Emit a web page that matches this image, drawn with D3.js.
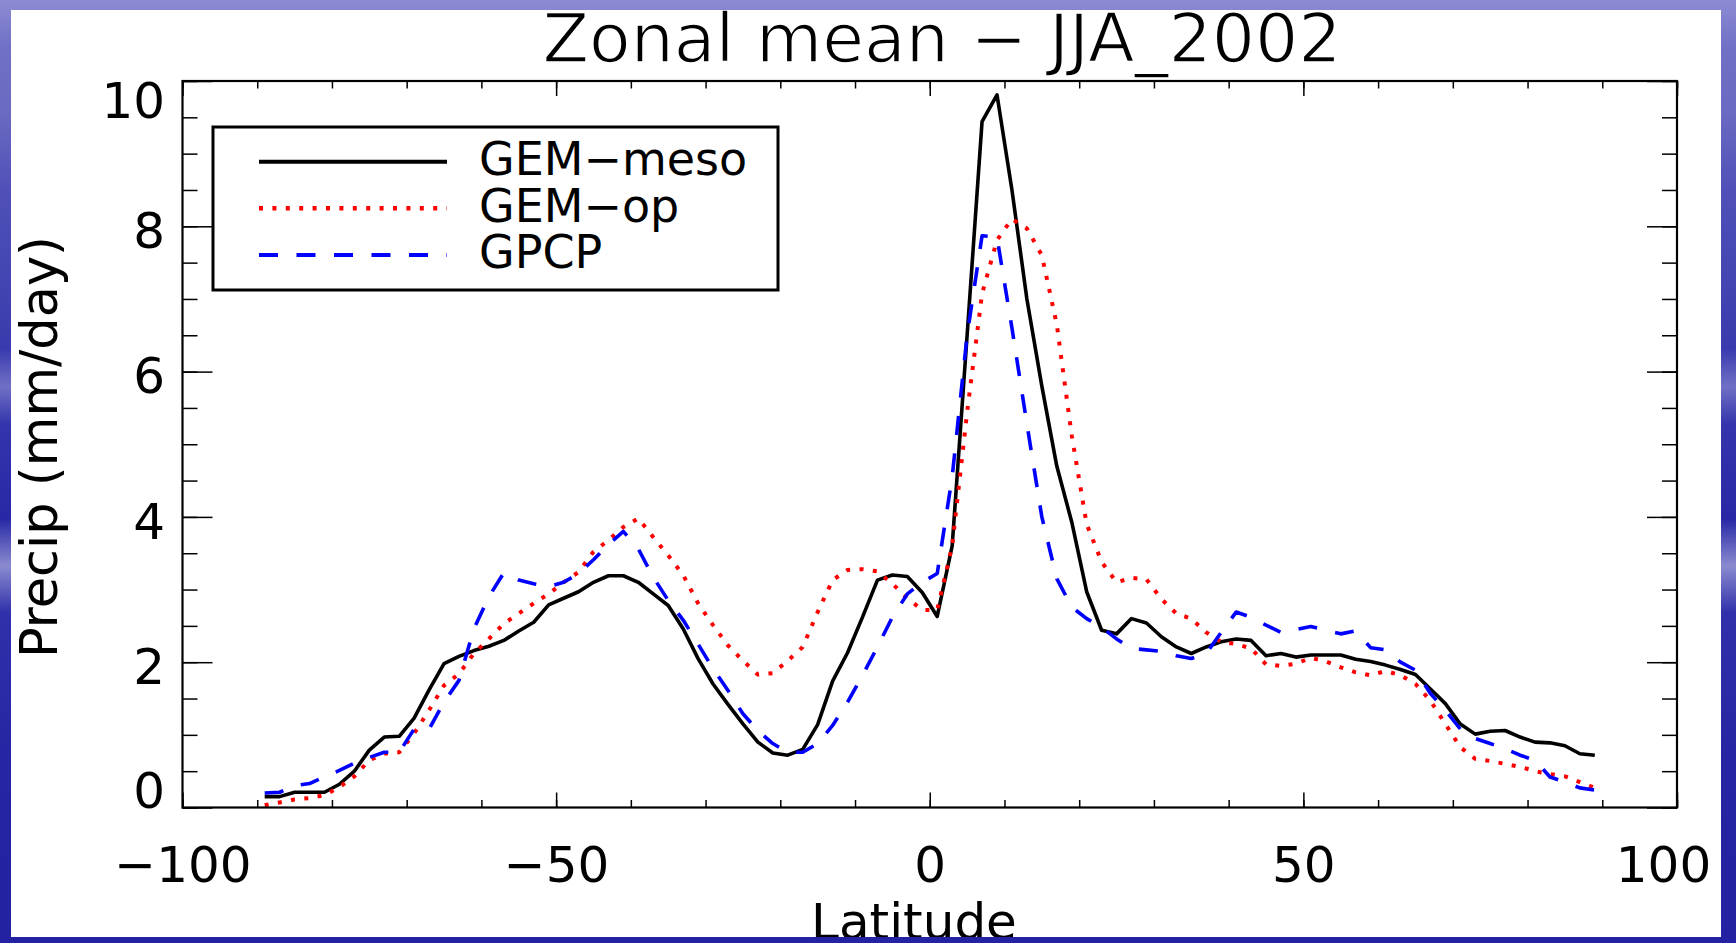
<!DOCTYPE html>
<html>
<head>
<meta charset="utf-8">
<script src="https://cdnjs.cloudflare.com/ajax/libs/d3/7.8.5/d3.min.js"></script>
<style>
  html, body { margin: 0; padding: 0; background: #2a2aa8; overflow: hidden; }
  svg { display: block; font-family: "DejaVu Sans", sans-serif; }
</style>
</head>
<body>
<svg id="chart" width="1736" height="943"></svg>
<script>
/*global d3:true */

// zonal means, 2 degree bands (band centres)
var latitude = [
  -89, -87, -85, -83, -81, -79, -77, -75, -73, -71,
  -69, -67, -65, -63, -61, -59, -57, -55, -53, -51,
  -49, -47, -45, -43, -41, -39, -37, -35, -33, -31,
  -29, -27, -25, -23, -21, -19, -17, -15, -13, -11,
  -9, -7, -5, -3, -1,
  1, 3, 5, 7, 9, 11, 13, 15, 17, 19,
  21, 23, 25, 27, 29, 31, 33, 35, 37, 39,
  41, 43, 45, 47, 49, 51, 53, 55, 57, 59,
  61, 63, 65, 67, 69, 71, 73, 75, 77, 79,
  81, 83, 85, 87, 89
];

var gemMeso = [
  0.15, 0.15, 0.21, 0.21, 0.21, 0.32, 0.50, 0.79, 0.97, 0.98,
  1.23, 1.62, 1.98, 2.08, 2.16, 2.22, 2.30, 2.43, 2.55, 2.79,
  2.88, 2.97, 3.10, 3.19, 3.19, 3.10, 2.94, 2.78, 2.46, 2.05,
  1.70, 1.42, 1.15, 0.90, 0.75, 0.72, 0.80, 1.14, 1.74, 2.13,
  2.62, 3.13, 3.20, 3.18, 2.96,
  2.63, 3.60, 6.50, 9.44, 9.81, 8.50, 7.00, 5.80, 4.70, 3.93,
  2.97, 2.44, 2.39, 2.60, 2.54, 2.35, 2.21, 2.12, 2.21, 2.28,
  2.32, 2.30, 2.09, 2.12, 2.07, 2.10, 2.10, 2.10, 2.04, 2.01,
  1.96, 1.90, 1.83, 1.63, 1.43, 1.15, 1.01, 1.05, 1.06, 0.97,
  0.90, 0.89, 0.85, 0.74, 0.72
];

var gemOp = [
  0.03, 0.07, 0.11, 0.13, 0.17, 0.28, 0.43, 0.65, 0.74, 0.76,
  1.02, 1.34, 1.68, 1.84, 2.12, 2.32, 2.53, 2.67, 2.81, 2.94,
  3.10, 3.24, 3.52, 3.68, 3.86, 3.98, 3.72, 3.47, 3.20, 2.81,
  2.51, 2.23, 2.02, 1.83, 1.85, 2.02, 2.21, 2.69, 3.13, 3.27,
  3.28, 3.25, 3.08, 2.88, 2.72,
  2.72, 3.60, 5.44, 7.07, 7.81, 8.10, 7.97, 7.60, 6.65, 5.12,
  3.90, 3.38, 3.10, 3.16, 3.14, 2.87, 2.67, 2.60, 2.41, 2.28,
  2.25, 2.19, 1.97, 1.95, 1.98, 2.06, 2.01, 1.93, 1.86, 1.82,
  1.88, 1.82, 1.70, 1.47, 1.15, 0.83, 0.67, 0.64, 0.60, 0.56,
  0.50, 0.46, 0.43, 0.35, 0.27
];

var gpcp = [
  0.20, 0.21, 0.30, 0.33, 0.42, 0.51, 0.61, 0.69, 0.76, 0.76,
  1.08, 1.08, 1.45, 1.75, 2.46, 2.90, 3.23, 3.13, 3.08, 3.04,
  3.10, 3.22, 3.41, 3.62, 3.80, 3.56, 3.17, 2.85, 2.58, 2.25,
  1.91, 1.61, 1.29, 1.06, 0.88, 0.76, 0.76, 0.88, 1.13, 1.45,
  1.82, 2.21, 2.62, 2.94, 3.10,
  3.22, 4.55, 6.50, 7.87, 7.85, 6.60, 5.28, 4.00, 3.15, 2.76,
  2.60, 2.48, 2.32, 2.19, 2.17, 2.15, 2.09, 2.05, 2.12, 2.41,
  2.69, 2.62, 2.51, 2.41, 2.45, 2.49, 2.44, 2.39, 2.43, 2.20,
  2.17, 2.00, 1.89, 1.57, 1.34, 1.08, 0.95, 0.88, 0.81, 0.72,
  0.65, 0.42, 0.35, 0.27, 0.24
];

var seriesNames = ["GEM\u2212meso", "GEM\u2212op", "GPCP"];
var xTickLabels = [-100, -50, 0, 50, 100];
var yTickLabels = [0, 2, 4, 6, 8, 10];

var width = 1736, height = 943;
var margin = {top: 81, right: 59, bottom: 135.5, left: 182.5},
    plotW = width - margin.left - margin.right,
    plotH = height - margin.top - margin.bottom;

var svg = d3.select("#chart");

// blue slide background, streaky
var defs = svg.append("defs");
var grad = defs.append("linearGradient")
    .attr("id", "slideBlue")
    .attr("gradientUnits", "userSpaceOnUse")
    .attr("x1", 0).attr("y1", 0).attr("x2", 0).attr("y2", height);
[[0, "#8c8cd4"], [0.05, "#7070c6"], [0.12, "#6a6ac2"], [0.2, "#5050b8"],
 [0.3, "#4444b2"], [0.37, "#3a3aae"], [0.41, "#7070c6"], [0.45, "#3434ac"],
 [0.55, "#2828a6"], [0.6, "#8a8ad0"], [0.65, "#3030aa"], [0.8, "#2626a4"],
 [1, "#2222a2"]].forEach(function(s) {
  grad.append("stop").attr("offset", s[0]).attr("stop-color", s[1]);
});

svg.append("rect")
    .attr("width", width)
    .attr("height", height)
    .attr("fill", "#ffffff");

var x = d3.scaleLinear()
    .domain([-100, 100])
    .range([0, plotW]);

var y = d3.scaleLinear()
    .domain([0, 10])
    .range([plotH, 0]);

var g = svg.append("g")
    .attr("transform", "translate(" + margin.left + "," + margin.top + ")");

function styleAxis(sel) {
  sel.select(".domain").remove();
  sel.selectAll(".tick line").attr("stroke", "#000").attr("stroke-width", 1.5);
  sel.attr("font-family", "DejaVu Sans, sans-serif").attr("font-size", 50);
  sel.selectAll(".tick text").attr("fill", "#000");
}

// minor ticks, all four sides (inward)
g.append("g").attr("transform", "translate(0," + plotH + ")")
    .call(d3.axisBottom(x).tickValues(x.ticks(20)).tickSize(-7.5).tickFormat(""))
    .call(styleAxis);
g.append("g")
    .call(d3.axisTop(x).tickValues(x.ticks(20)).tickSize(-7.5).tickFormat(""))
    .call(styleAxis);
g.append("g")
    .call(d3.axisLeft(y).tickValues(y.ticks(20)).tickSize(-15).tickFormat(""))
    .call(styleAxis);
g.append("g").attr("transform", "translate(" + plotW + ",0)")
    .call(d3.axisRight(y).tickValues(y.ticks(20)).tickSize(-15).tickFormat(""))
    .call(styleAxis);

// major ticks with labels
var xAxis = g.append("g").attr("transform", "translate(0," + plotH + ")")
    .call(d3.axisBottom(x).tickValues(xTickLabels).tickSize(-15).tickPadding(37.5))
    .call(styleAxis);
xAxis.selectAll(".tick text")
    .attr("dy", null)
    .attr("y", 74)
    .attr("dx", function(d) { return d === 100 ? -14 : 0; }); // IDL pushes the last label in

g.append("g")
    .call(d3.axisTop(x).tickValues(xTickLabels).tickSize(-15).tickFormat(""))
    .call(styleAxis);

var yAxis = g.append("g")
    .call(d3.axisLeft(y).tickValues(yTickLabels).tickSize(-30).tickPadding(17.5))
    .call(styleAxis);
yAxis.selectAll(".tick text")
    .attr("dy", null)
    .attr("y", function(d) {
      var py = y(d),
          cy = Math.max(18.5, Math.min(plotH - 18.5, py + 3));
      return cy + 18.2 - py;
    });

g.append("g").attr("transform", "translate(" + plotW + ",0)")
    .call(d3.axisRight(y).tickValues(yTickLabels).tickSize(-30).tickFormat(""))
    .call(styleAxis);

// lines
var line = d3.line()
    .x(function(d, i) { return x(latitude[i]); })
    .y(function(d) { return y(d); });

var series = [
  {name: seriesNames[0], values: gemMeso, color: "#000000", width: 3.6, dash: null},
  {name: seriesNames[1], values: gemOp, color: "#ff0000", width: 4, dash: "4,9.4"},
  {name: seriesNames[2], values: gpcp, color: "#0000ff", width: 3.6, dash: "19,18.5"}
];

g.selectAll(".series")
    .data(series)
  .enter().append("path")
    .attr("class", "series")
    .attr("d", function(d) { return line(d.values); })
    .attr("fill", "none")
    .attr("stroke", function(d) { return d.color; })
    .attr("stroke-width", function(d) { return d.width; })
    .attr("stroke-dasharray", function(d) { return d.dash; })
    .attr("stroke-linejoin", "round");

// plot frame
g.append("rect")
    .attr("width", plotW)
    .attr("height", plotH)
    .attr("fill", "none")
    .attr("stroke", "#000")
    .attr("stroke-width", 2.2);

// legend
var legend = svg.append("g").attr("transform", "translate(213,127)");
legend.append("rect")
    .attr("width", 565)
    .attr("height", 163)
    .attr("fill", "#fff")
    .attr("stroke", "#000")
    .attr("stroke-width", 3);

var rows = legend.selectAll(".row")
    .data(series)
  .enter().append("g")
    .attr("class", "row")
    .attr("transform", function(d, i) { return "translate(0," + (34.7 + i * 46.6) + ")"; });

rows.append("line")
    .attr("x1", 46).attr("x2", 234)
    .attr("stroke", function(d) { return d.color; })
    .attr("stroke-width", function(d) { return d.width + 0.4; })
    .attr("stroke-dasharray", function(d) { return d.dash; });

rows.append("text")
    .attr("x", 266)
    .attr("y", 13.5)
    .attr("font-size", 46)
    .text(function(d) { return d.name; });

// titles
svg.append("text")
    .attr("x", 942)
    .attr("y", 62)
    .attr("text-anchor", "middle")
    .attr("font-size", 68)
    .attr("stroke", "#fff")
    .attr("stroke-width", 1.6)
    .text("Zonal mean \u2212 JJA_2002");

svg.append("text")
    .attr("transform", "translate(57,447) rotate(-90)")
    .attr("text-anchor", "middle")
    .attr("font-size", 51)
    .text("Precip (mm/day)");

svg.append("text")
    .attr("x", 914)
    .attr("y", 939)
    .attr("text-anchor", "middle")
    .attr("font-size", 50)
    .text("Latitude");

// slide border drawn on top, it clips the outer labels
svg.append("path")
    .attr("fill-rule", "evenodd")
    .attr("fill", "url(#slideBlue)")
    .attr("d", "M0,0H" + width + "V" + height + "H0Z M11,10V937H1721V10Z");
</script>
</body>
</html>
